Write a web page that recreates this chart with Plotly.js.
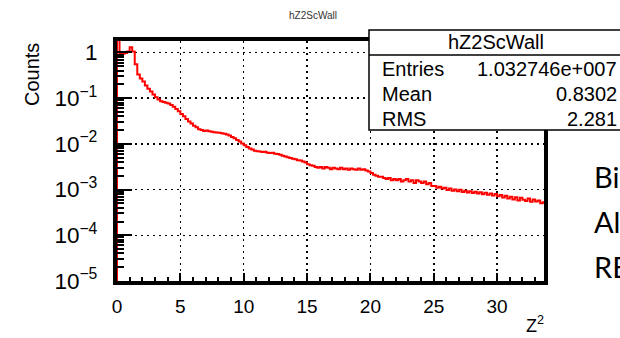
<!DOCTYPE html>
<html>
<head>
<meta charset="utf-8">
<script src="https://cdn.plot.ly/plotly-3.0.1.min.js"></script>
<style>html,body{margin:0;padding:0;background:#fff;}#chart{width:620px;height:338px;}</style>
</head>
<body>
<div id="chart"></div>
<script>
// ---- data ----
const histName = 'hZ2ScWall';
const binWidth = 0.2;      // Z^2 bin width, bins start at 0
const counts = [
  3.0, 0.95, 0.93, 0.97, 1.05, 1.30, 1.05, 0.55, 0.33, 0.27,
  0.23, 0.19, 0.16, 0.14, 0.12, 0.105, 0.093, 0.086, 0.082, 0.079,
  0.076, 0.071, 0.065, 0.058, 0.052, 0.045, 0.040, 0.035, 0.031, 0.028,
  0.025, 0.023, 0.021, 0.020, 0.019, 0.0195, 0.0188, 0.0185, 0.0180, 0.0178,
  0.0176, 0.0170, 0.0166, 0.0160, 0.0152, 0.0142, 0.0132, 0.0122, 0.0112, 0.0102,
  0.0093, 0.0085, 0.0079, 0.0075, 0.0071, 0.0069, 0.0068, 0.0066, 0.0067, 0.0064,
  0.0063, 0.0064, 0.0061, 0.0060, 0.0058, 0.0055, 0.0053, 0.0051, 0.0049, 0.0047,
  0.0046, 0.0044, 0.0043, 0.0041, 0.0039, 0.0036, 0.0034, 0.0033, 0.0031, 0.0030,
  0.0031, 0.0029, 0.0031, 0.0030, 0.0028, 0.0030, 0.0029, 0.0028, 0.0030, 0.0028,
  0.0029, 0.0027, 0.0029, 0.0028, 0.0027, 0.0029, 0.0027, 0.0028, 0.0026, 0.0025,
  0.0023, 0.0021, 0.0020, 0.0019, 0.0019, 0.0018, 0.0017, 0.0018, 0.0016, 0.0017,
  0.0016, 0.0017, 0.0015, 0.0016, 0.0017, 0.0015, 0.0016, 0.0014, 0.0016, 0.0015,
  0.0014, 0.0015, 0.0013, 0.0014, 0.0012, 0.0012, 0.0011, 0.00115, 0.00105, 0.0011,
  0.00098, 0.00105, 0.00094, 0.0010, 0.00092, 0.00099, 0.00088, 0.00094, 0.00086, 0.00092,
  0.00084, 0.00090, 0.00082, 0.00087, 0.00079, 0.00085, 0.00077, 0.00082, 0.00074, 0.00080,
  0.00071, 0.00076, 0.00067, 0.00073, 0.00064, 0.00070, 0.00061, 0.00068, 0.00058, 0.00066,
  0.00060, 0.00056, 0.00064, 0.00054, 0.00061, 0.00055, 0.00058, 0.00050, 0.00053, 0.00043
];
const statLabels = ['Entries', 'Mean', 'RMS'];
const statValues = ['1.032746e+007', '0.8302', '2.281'];
const sideTexts = ['Bi', 'Al', 'RE'];
const xTitle = 'Z<sup>2</sup>';
const yTitle = 'Counts';

// ---- layout geometry ----
const W = 620, H = 338;
const M = {l: 117, r: 76, t: 41, b: 57};
const yRange = [-5, 0.25];
const xRange = [0, 33.7];
const px = x => (x - M.l) / (W - M.l - M.r);
const py = y => (H - M.b - y) / (H - M.t - M.b);

// step outline built from bin edges
const xs = [0], ys = [Math.pow(10, yRange[0] - 2)];
counts.forEach((c, i) => { xs.push(i * binWidth); ys.push(c); });
xs.push(counts.length * binWidth); ys.push(counts[counts.length - 1]);

const trace = {
  type: 'scatter', mode: 'lines', x: xs, y: ys,
  line: {color: '#ff0000', width: 2, shape: 'hv'},
  hoverinfo: 'skip', showlegend: false
};

const font = 'Liberation Sans, Arial, sans-serif';
const gridDash = '2px,4px';

const annotations = [
  {text: xTitle, xref: 'paper', yref: 'paper', x: px(546), y: py(324), xanchor: 'right', yanchor: 'middle', showarrow: false, font: {family: font, size: 18, color: '#000'}},
  {text: yTitle, xref: 'paper', yref: 'paper', x: px(32), y: py(75), textangle: -90, xanchor: 'center', yanchor: 'middle', showarrow: false, font: {family: font, size: 20, color: '#000'}},
  {text: histName, xref: 'paper', yref: 'paper', x: px(496), y: py(42), xanchor: 'center', yanchor: 'middle', showarrow: false, font: {family: font, size: 20, color: '#000'}}
];
statLabels.forEach((s, i) => {
  annotations.push({text: s, xref: 'paper', yref: 'paper', x: px(380), y: py(69 + 25 * i), xanchor: 'left', yanchor: 'middle', showarrow: false, font: {family: font, size: 20, color: '#000'}});
  annotations.push({text: statValues[i], xref: 'paper', yref: 'paper', x: px(619), y: py(69 + 25 * i), xanchor: 'right', yanchor: 'middle', showarrow: false, font: {family: font, size: 20, color: '#000'}});
});
sideTexts.forEach((s, i) => {
  annotations.push({text: s, xref: 'paper', yref: 'paper', x: px(592), y: py(176 + 45 * i), xanchor: 'left', yanchor: 'middle', showarrow: false, font: {family: 'Lato, Carlito, sans-serif', size: 29, color: '#000'}});
});

const layout = {
  width: W, height: H,
  margin: M,
  paper_bgcolor: '#fff', plot_bgcolor: '#fff',
  title: {text: histName, x: px(313), xref: 'paper', xanchor: 'center', y: 1 - 15 / H, yanchor: 'middle', font: {family: font, size: 10, color: '#333'}},
  xaxis: {
    range: xRange, dtick: 5, tick0: 0,
    showline: true, linecolor: '#000', linewidth: 4, mirror: true,
    ticks: 'inside', ticklen: 8, tickwidth: 2, tickcolor: '#000',
    minor: {dtick: 1, ticks: 'inside', ticklen: 4, tickwidth: 2, tickcolor: '#000', showgrid: false},
    showgrid: true, gridcolor: '#000', gridwidth: 1.5, griddash: gridDash,
    zeroline: false, ticklabelstandoff: 5,
    tickfont: {family: font, size: 19, color: '#000'}
  },
  yaxis: {
    type: 'log', range: yRange, dtick: 1, exponentformat: 'power',
    showline: true, linecolor: '#000', linewidth: 4, mirror: true,
    ticks: 'inside', ticklen: 15, tickwidth: 2, tickcolor: '#000',
    minor: {dtick: 'D1', ticks: 'inside', ticklen: 7, tickwidth: 2, tickcolor: '#000', showgrid: false},
    showgrid: true, gridcolor: '#000', gridwidth: 1.5, griddash: gridDash,
    zeroline: false, ticklabelstandoff: 12,
    tickfont: {family: font, size: 18, color: '#000'}
  },
  shapes: [
    {type: 'rect', xref: 'paper', yref: 'paper', x0: px(369), x1: px(640), y0: py(130), y1: py(30), line: {color: '#000', width: 1.5}, fillcolor: '#fff', layer: 'above'},
    {type: 'line', xref: 'paper', yref: 'paper', x0: px(369), x1: px(640), y0: py(55), y1: py(55), line: {color: '#000', width: 1.5}, layer: 'above'}
  ],
  annotations: annotations
};

Plotly.newPlot('chart', [trace], layout, {staticPlot: true, displayModeBar: false});
</script>
</body>
</html>
